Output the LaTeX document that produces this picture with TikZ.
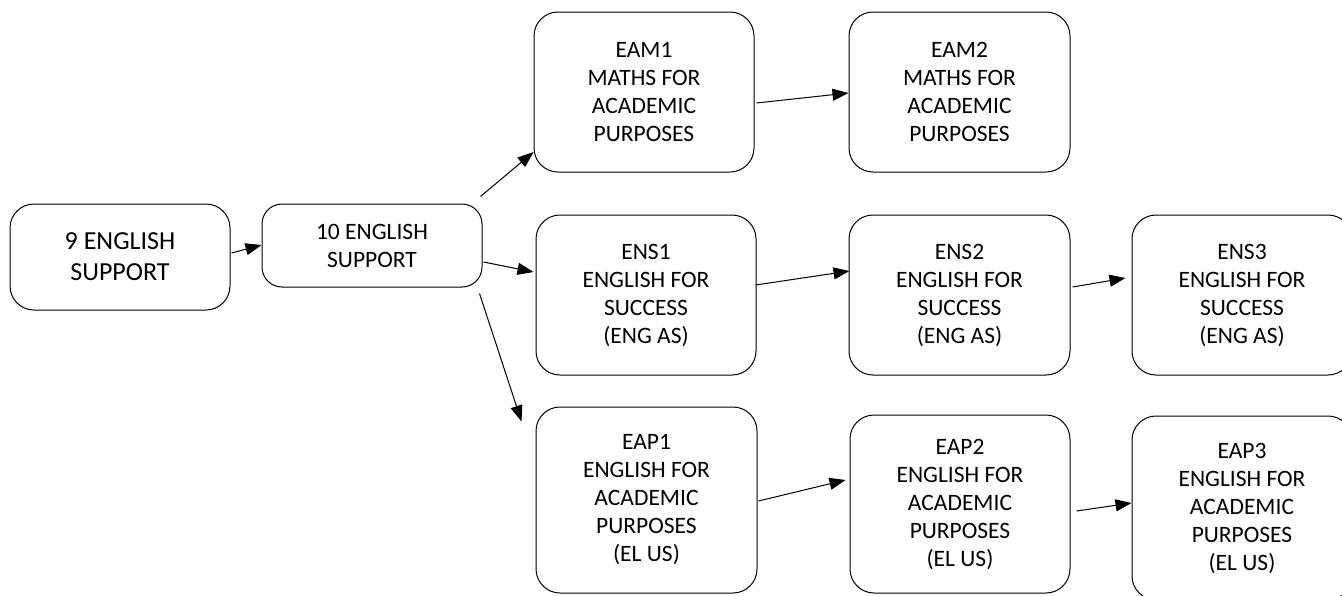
\documentclass[tikz,border=0pt]{standalone}
\usepackage{fontspec}
\setmainfont{Carlito}
\usetikzlibrary{arrows.meta,calc}
\begin{document}
\begin{tikzpicture}[x=1pt,y=-1pt,
  box/.style={draw, line width=1pt, rounded corners=24pt, align=center, inner sep=0pt,
    minimum width=220pt, font=\fontsize{23.5}{28}\selectfont},
  arr/.style={line width=1pt, -{Triangle[length=16pt,width=12pt]}}]
\useasboundingbox (0,0) rectangle (1342,595);
\node[box, minimum height=106pt, font=\fontsize{26}{31}\selectfont] (n9) at (120,257) {9 ENGLISH\\SUPPORT};
\node[box, minimum height=83pt, rounded corners=20pt] (n10) at (372,245.5) {10 ENGLISH\\SUPPORT};
\node[box, minimum height=160pt] (eam1) at (644,92) {EAM1\\MATHS FOR\\ACADEMIC\\PURPOSES};
\node[box, minimum height=160pt, minimum width=221pt] (eam2) at (959.5,92) {EAM2\\MATHS FOR\\ACADEMIC\\PURPOSES};
\node[box, minimum height=160pt] (ens1) at (646,295) {ENS1\\ENGLISH FOR\\SUCCESS\\(ENG AS)};
\node[box, minimum height=160pt, minimum width=221pt] (ens2) at (959.5,295) {ENS2\\ENGLISH FOR\\SUCCESS\\(ENG AS)};
\node[box, minimum height=160pt] (ens3) at (1242,295) {ENS3\\ENGLISH FOR\\SUCCESS\\(ENG AS)};
\node[box, minimum height=186pt, minimum width=221pt] (eap1) at (646.5,500) {EAP1\\ENGLISH FOR\\ACADEMIC\\PURPOSES\\(EL US)};
\node[box, minimum height=178pt] (eap2) at (960,504) {EAP2\\ENGLISH FOR\\ACADEMIC\\PURPOSES\\(EL US)};
\node[box, minimum height=184pt] (eap3) at (1242,508) {EAP3\\ENGLISH FOR\\ACADEMIC\\PURPOSES\\(EL US)};
\draw[arr] ([shift={(1,-4)}]n9.east) -- ([shift={(0,-0.5)}]n10.west);
\draw[arr] ([shift={(-2,-7)}]n10.north east) -- ([shift={(0,60)}]eam1.west);
\draw[arr] ([shift={(1,16.5)}]n10.east) -- ([shift={(-2,-23)}]ens1.west);
\draw[arr] ([shift={(-3,6)}]n10.south east) -- ([shift={(-14,15)}]eap1.north west);
\draw[arr] ([shift={(2,11)}]eam1.east) -- ([shift={(0,1)}]eam2.west);
\draw[arr] ([shift={(-1,-10)}]ens1.east) -- ([shift={(1,-24)}]ens2.west);
\draw[arr] ([shift={(2,-8)}]ens2.east) -- ([shift={(-6,-17)}]ens3.west);
\draw[arr] ([shift={(1,1)}]eap1.east) -- ([shift={(-4,-24)}]eap2.west);
\draw[arr] ([shift={(6,7)}]eap2.east) -- ([shift={(0,-5)}]eap3.west);
\end{tikzpicture}
\end{document}
